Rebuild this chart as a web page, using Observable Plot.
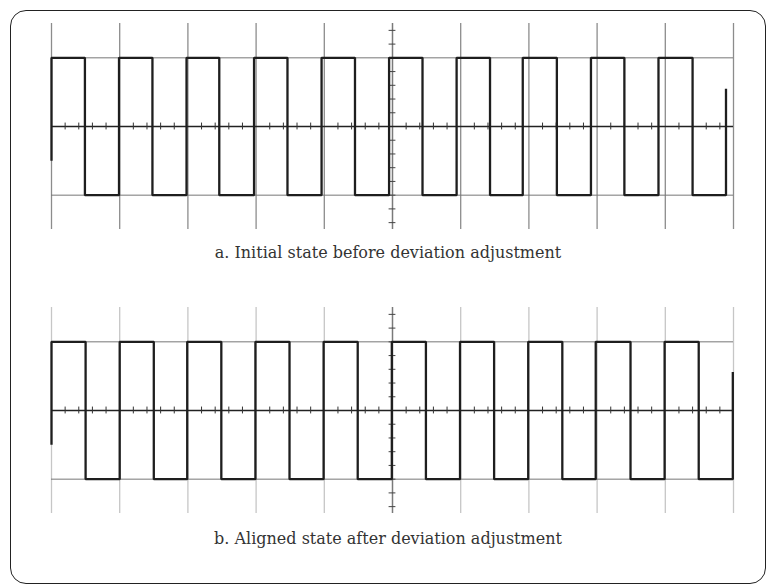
<!DOCTYPE html>
<html>
<head>
<meta charset="utf-8">
<script src="https://cdn.jsdelivr.net/npm/d3@7"></script>
<script src="https://cdn.jsdelivr.net/npm/@observablehq/plot@0.6"></script>
<style>
  html, body { margin: 0; padding: 0; background: #fff; width: 768px; height: 585px; overflow: hidden; }
  #frame { position: absolute; left: 10px; top: 10px; width: 754px; height: 572px;
           border: 1.6px solid #222; border-radius: 16px; }
  .panel { position: absolute; left: 0; }
  .caption { position: absolute; left: 0; width: 776px; text-align: center;
             font-family: "DejaVu Serif", serif; font-size: 16px; color: #333; }
</style>
</head>
<body>
<div id="frame"></div>
<div id="pa" class="panel" style="top:0px"></div>
<div id="capA" class="caption" style="top:243px"></div>
<div id="pb" class="panel" style="top:284px"></div>
<div id="capB" class="caption" style="top:529px"></div>
<script>
// ---- data (in screen divisions) ----
const divisions = [0, 1, 2, 3, 4, 5, 6, 7, 8, 9, 10];
const levelLines = [-1, 0, 1];
const minorTicks = [0.2, 0.4, 0.6, 0.8, 1.2, 1.4, 1.6, 1.8, 2.2, 2.4, 2.6, 2.8, 3.2, 3.4, 3.6, 3.8,
  4.2, 4.4, 4.6, 4.8, 5.2, 5.4, 5.6, 5.8, 6.2, 6.4, 6.6, 6.8, 7.2, 7.4, 7.6, 7.8, 8.2, 8.4, 8.6, 8.8,
  9.2, 9.4, 9.6, 9.8];
const vertTicks = [-1.4, -1.2, -1.0, -0.8, -0.6, -0.4, -0.2, 0.2, 0.4, 0.6, 0.8, 1.0, 1.2, 1.4];

// edge times of the square wave (divisions)
const edgesA = [0, 0.49, 0.99, 1.48, 1.98, 2.46, 2.97, 3.46, 3.96, 4.45, 4.95, 5.44,
  5.94, 6.43, 6.91, 7.41, 7.91, 8.40, 8.90, 9.40, 9.89];
const edgesB = [0, 0.50, 1.00, 1.50, 1.99, 2.49, 2.99, 3.49, 3.99, 4.49, 4.99, 5.49,
  5.99, 6.49, 6.99, 7.49, 7.98, 8.49, 8.99, 9.49, 9.99];
const startLevel = -0.5;
const highLevel = 1, lowLevel = -1;
const endLevelA = 0.55, endLevelB = 0.56;
const captionA = "a. Initial state before deviation adjustment";
const captionB = "b. Aligned state after deviation adjustment";

function wavePoints(edges, endLevel) {
  const pts = [{t: edges[0], v: startLevel}];
  let level = startLevel;
  edges.forEach((t, i) => {
    const next = i === edges.length - 1 ? endLevel : (i % 2 === 0 ? highLevel : lowLevel);
    pts.push({t, v: level});
    pts.push({t, v: next});
    level = next;
  });
  return pts;
}

function panel(edges, endLevel, vGridColor) {
  const wave = wavePoints(edges, endLevel);
  return Plot.plot({
    width: 768, height: 240,
    marginLeft: 51, marginRight: 35, marginTop: 23, marginBottom: 11,
    x: {domain: [0, 10], axis: null},
    y: {domain: [-1.5, 1.5], axis: null},
    marks: [
      Plot.ruleX(divisions.filter(d => d !== 5), {x: d => d, y1: -1.5, y2: 1.5, stroke: vGridColor, strokeWidth: 1.3}),
      Plot.ruleX([5], {x: d => d, y1: -1.5, y2: 1.5, stroke: "#7a7a7a", strokeWidth: 1.5}),
      Plot.ruleY(levelLines.filter(d => d !== 0), {y: d => d, x1: 0, x2: 10, stroke: "#777", strokeWidth: 1}),
      Plot.ruleY([0], {y: d => d, x1: 0, x2: 10, stroke: "#222", strokeWidth: 1.3}),
      Plot.ruleX(minorTicks, {x: d => d, y1: -0.05, y2: 0.05, stroke: "#333", strokeWidth: 1}),
      Plot.ruleY(vertTicks, {y: d => d, x1: 4.95, x2: 5.05, stroke: "#444", strokeWidth: 1}),
      Plot.line(wave, {x: "t", y: "v", stroke: "#1e1e1e", strokeWidth: 2.3, strokeLinejoin: "miter", strokeLinecap: "butt"})
    ]
  });
}

document.getElementById("pa").appendChild(panel(edgesA, endLevelA, "#8c8c8c"));
document.getElementById("pb").appendChild(panel(edgesB, endLevelB, "#c6c6c6"));
document.getElementById("capA").textContent = captionA;
document.getElementById("capB").textContent = captionB;
</script>
</body>
</html>
